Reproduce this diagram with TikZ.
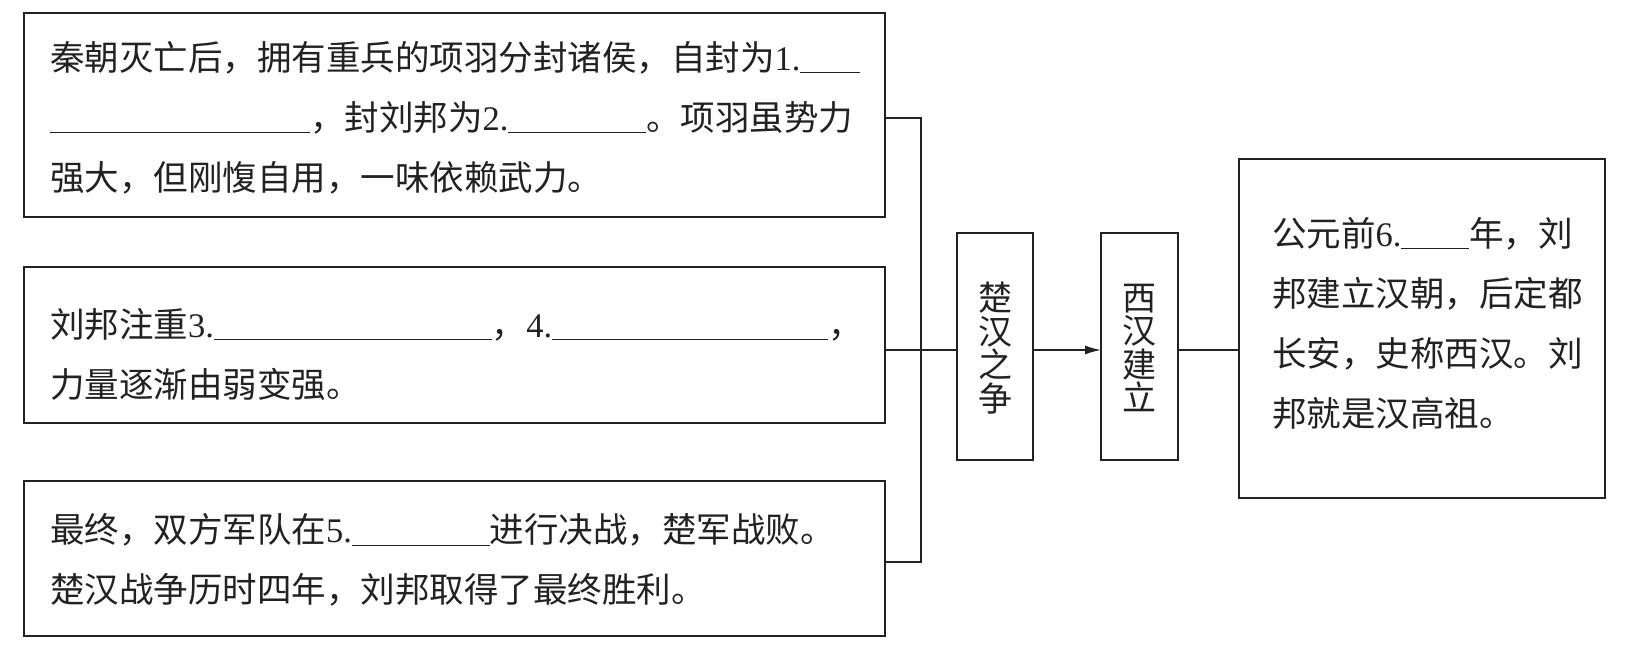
\documentclass[tikz,border=0pt]{standalone}
\usepackage{fontspec}
\setmainfont{Liberation Serif}
\newfontfamily\cjk{Noto Sans CJK SC}
\usetikzlibrary{arrows.meta}
\newcommand\qn[1]{{\rmfamily #1.}}
\newcommand\blank[1]{\rule[-3pt]{#1pt}{1pt}}
\definecolor{ink}{HTML}{222222}
\begin{document}
\begin{tikzpicture}[x=1pt,y=-1pt,
  boxstyle/.style={draw=ink,line width=1.8pt,inner sep=0pt,outer sep=0pt,rectangle},
  txt/.style={inner sep=0pt,outer sep=0pt,align=left,anchor=west,text=ink,
    font={\cjk\fontsize{34.5pt}{60pt}\selectfont}},
  vtxt/.style={inner sep=0pt,outer sep=0pt,align=center,text=ink,
    font={\cjk\fontsize{34pt}{35pt}\selectfont}},
  conn/.style={draw=ink,line width=1.5pt}]
\useasboundingbox (0,0) rectangle (1645,651);
\fill[white] (0,0) rectangle (1645,651);
% boxes
\node[boxstyle,minimum width=861pt,minimum height=204pt] (b1) at (454.5,115) {};
\node[boxstyle,minimum width=861pt,minimum height=156pt] (b2) at (454.5,345) {};
\node[boxstyle,minimum width=861pt,minimum height=155pt] (b3) at (454.5,558.5) {};
\node[boxstyle,minimum width=76pt,minimum height=227pt] (cz) at (995,346.5) {};
\node[boxstyle,minimum width=77pt,minimum height=227pt] (xh) at (1139.5,346.5) {};
\node[boxstyle,minimum width=366pt,minimum height=339pt] (rb) at (1422,328.5) {};
% texts
\node[txt] (t1) at (50,117.5) {秦朝灭亡后，拥有重兵的项羽分封诸侯，自封为\qn{1}\blank{60}\\
\blank{260}，封刘邦为\qn{2}\blank{138}。项羽虽势力\\
强大，但刚愎自用，一味依赖武力。};
\node[txt] (t2) at (50,354) {刘邦注重\qn{3}\blank{278}，\qn{4}\blank{276}，\\
力量逐渐由弱变强。};
\node[txt] (t3) at (50,560) {最终，双方军队在\qn{5}\blank{138}进行决战，楚军战败。\\
楚汉战争历时四年，刘邦取得了最终胜利。};
\node[txt] (t6) at (1272,323) {公元前\qn{6}\blank{68}年，刘\\
邦建立汉朝，后定都\\
长安，史称西汉。刘\\
邦就是汉高祖。};
\node[vtxt] (tcz) at (995,348) {楚\\[-1.5pt]汉\\[-1.5pt]之\\[-1.5pt]争};
\node[vtxt] (txh) at (1139.5,348) {西\\[-1.5pt]汉\\[-1.5pt]建\\[-1.5pt]立};
% connectors
\coordinate (jt) at (921,118);
\coordinate (jm) at (921,350);
\coordinate (jb) at (921,562);
\draw[conn] (b1.east |- jt) -- (jt) -- (jb) -- (b3.east |- jb);
\draw[conn] (b2.east |- jm) -- (cz.west |- jm);
\draw[conn,-{Latex[length=16pt,width=9pt]}] (cz.east |- jm) -- (xh.west |- jm);
\draw[conn] (xh.east |- jm) -- (rb.west |- jm);
\end{tikzpicture}
\end{document}
